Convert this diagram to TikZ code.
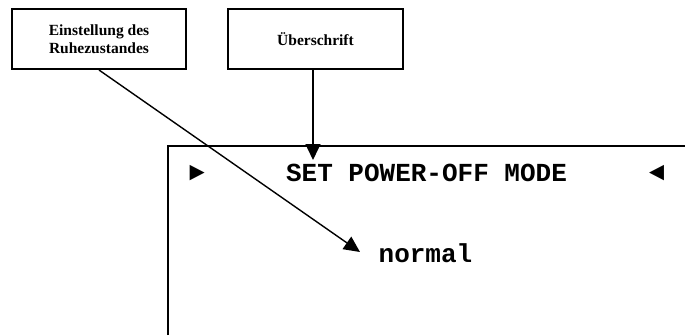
\documentclass[tikz,border=0pt]{standalone}
\usepackage{fontspec}
\setmainfont{Liberation Serif}
\newfontfamily\monob{Liberation Mono}
\usetikzlibrary{arrows.meta}
\begin{document}
\begin{tikzpicture}[x=1pt,y=1pt,
  labelbox/.style={draw,line width=2pt,minimum width=174pt,minimum height=60pt,align=center,inner sep=0pt,font=\fontsize{15.5}{18}\selectfont\bfseries},
  conn/.style={line width=1.4pt,-{Triangle[length=16pt,width=15pt]}},
  lcd/.style={inner sep=0pt,font=\fontsize{26}{30}\selectfont\monob\bfseries}]
\useasboundingbox (0,0) rectangle (685,-335);
\node[labelbox] (b1) at (99,-39) {Einstellung des\\Ruhezustandes};
\node[labelbox,minimum width=175pt] (b2) at (315.5,-39) {Überschrift};
\draw[line width=1.6pt] (168,-335) -- (168,-146) -- (685,-146);
\node[lcd] (ltri) at (197,-173) {►};
\node[lcd] (title) at (426.5,-173) {SET POWER-OFF MODE};
\node[lcd] (rtri) at (657,-173) {◄};
\node[lcd] (normal) at (425.5,-253) {normal};
\coordinate (tipA) at (360,-252);
\coordinate (tipB) at (313,-160);
\draw[conn] (b1.south) -- (tipA);
\draw[conn] (b2.south -| tipB) -- (tipB);
\end{tikzpicture}
\end{document}
